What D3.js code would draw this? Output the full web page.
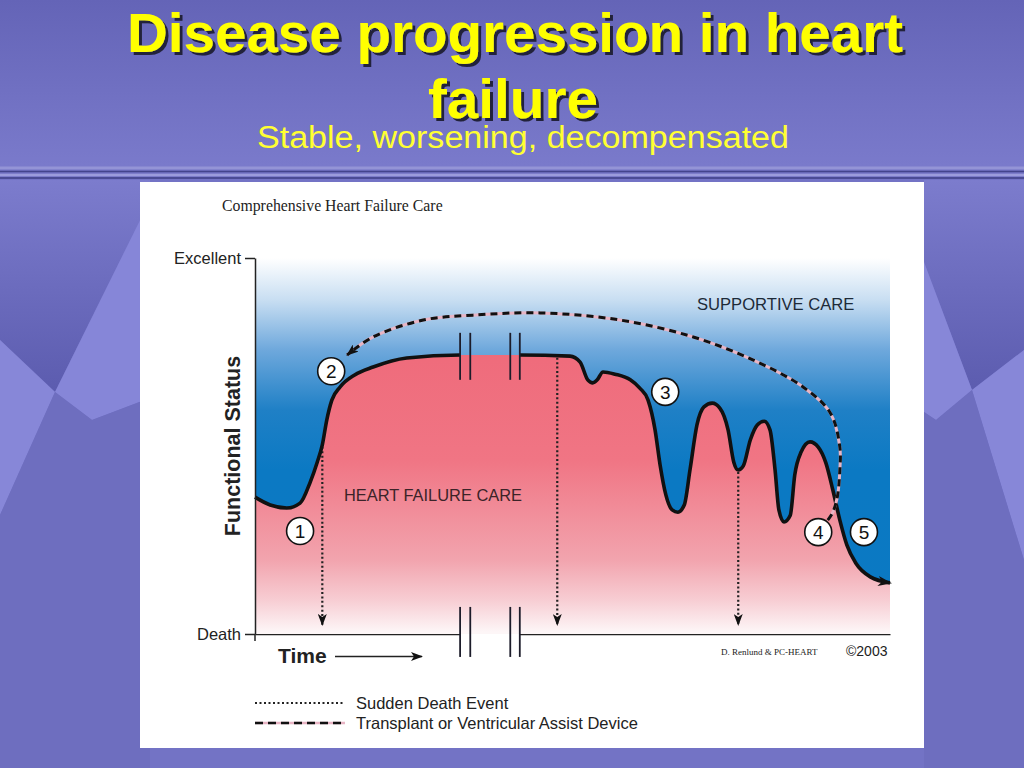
<!DOCTYPE html>
<html>
<head>
<meta charset="utf-8">
<script src="https://cdn.jsdelivr.net/npm/d3@7"></script>
<style>
  html, body { margin: 0; padding: 0; background: #7373c5; }
  svg { display: block; }
  text { font-family: "Liberation Sans", Arial, sans-serif; }
</style>
</head>
<body>
<svg id="slide" width="1024" height="768"></svg>
<script>
// Disease progression in heart failure - D3 redraw of the slide figure.
// time runs 0..100 across the plot, functional status 0 (Death) .. 100 (Excellent)
const CURVE_T = [0, 2.4, 5.0, 7.1, 8.7, 9.8, 10.6, 11.3, 12.1, 13.4, 15.7, 18.6, 23.9, 32.3, 41.7, 49.6, 51.2, 52.4, 53.2,
  53.9, 54.8, 56.7, 59.1, 60.6, 61.9, 63.0, 63.8, 64.7, 65.7, 66.6, 67.6, 68.5, 69.6, 70.7, 72.0, 73.2, 74.5, 75.4, 76.1,
  76.9, 78.0, 79.1, 80.2, 81.1, 81.9, 82.5, 83.3, 84.3, 85.0, 86.0, 87.4, 88.7, 89.9, 91.0, 92.1, 93.2, 94.6, 96.9, 100];
const CURVE_V = [36.4, 34.3, 33.5, 34.8, 40.4, 45.7, 50.3, 56.9, 62.2, 65.7, 68.9, 71.0, 73.4, 74.2, 74.2, 73.9, 72.3, 67.6, 66.8,
  67.6, 69.7, 69.1, 67.6, 65.4, 62.2, 54.3, 44.9, 37.0, 33.0, 32.4, 34.3, 43.6, 55.6, 60.4, 61.4, 60.1, 54.3, 45.7, 43.6,
  44.7, 51.6, 55.6, 56.6, 54.3, 43.6, 33.0, 29.8, 31.6, 42.3, 48.4, 51.1, 49.7, 45.5, 38.3, 30.3, 23.7, 18.9, 15.2, 13.6];

// transplant / VAD path, from the crossing near (4) back to (2)
const VAD_T = [90.2, 91.0, 91.7, 92.1, 92.1, 90.6, 86.3, 78.4, 69.0, 57.5, 44.9, 34.3, 26.5, 18.6, 14.5];
const VAD_V = [30.3, 32.4, 36.4, 43.6, 49.7, 58.8, 65.7, 72.9, 79.0, 83.5, 85.4, 84.8, 83.5, 79.0, 74.2];

// sudden death events
const SUDDEN_T = [10.6, 47.6, 76.1];
const SUDDEN_V = [50.3, 74.0, 43.6];

const MARK_LABEL = ["1", "2", "3", "4", "5"];
const MARK_T = [7.1, 12.0, 64.6, 88.7, 95.9];
const MARK_V = [27.4, 69.9, 64.4, 27.1, 27.1];

const BREAK_T = [32.3, 33.9, 40.2, 41.7];
const Y_TICKS = [0, 100];
const Y_TICK_LABELS = ["Death", "Excellent"];

const svg = d3.select("#slide");
const x = d3.scaleLinear().domain([0, 100]).range([255, 890]);
const y = d3.scaleLinear().domain([0, 100]).range([634, 258]);
const pts = CURVE_T.map((t, i) => [t, CURVE_V[i]]);

const defs = svg.append("defs");
function vgrad(id, stops) {
  const g = defs.append("linearGradient").attr("id", id).attr("gradientUnits", "userSpaceOnUse")
    .attr("x1", 0).attr("x2", 0).attr("y1", 0).attr("y2", 768);
  stops.forEach(([yy, c]) => g.append("stop").attr("offset", yy / 768).attr("stop-color", c));
}
vgrad("titleBg", [[0, "#6464b7"], [90, "#7070c2"], [166, "#7a7acb"]]);
vgrad("blueGrad", [[258, "#ffffff"], [300, "#c8def2"], [350, "#6ea8dc"], [410, "#1f80c6"], [470, "#0b79c3"], [634, "#0a79c3"]]);
vgrad("pinkGrad", [[350, "#ef6b7b"], [460, "#f07584"], [560, "#f2a4ae"], [600, "#f7cdd3"], [632, "#fdf6f7"]]);
vgrad("darkFacet", [[180, "#7c7ccd"], [390, "#5c5caf"]]);

const shadow = defs.append("filter").attr("id", "shadow").attr("x", "-5%").attr("y", "-20%").attr("width", "110%").attr("height", "140%");
shadow.append("feDropShadow").attr("dx", 3).attr("dy", 3).attr("stdDeviation", 0.6)
  .attr("flood-color", "#24243a").attr("flood-opacity", 1);

function marker(id, path, w, h, refX, refY) {
  defs.append("marker").attr("id", id).attr("viewBox", `0 0 ${w} ${h}`).attr("markerUnits", "userSpaceOnUse")
    .attr("markerWidth", w).attr("markerHeight", h).attr("refX", refX).attr("refY", refY).attr("orient", "auto")
    .append("path").attr("d", path).attr("fill", "#111");
}
marker("arrowBig", "M0,0 L14,5 L0,10 L4,5 Z", 14, 10, 12, 5);
marker("arrowSmall", "M0,0 L12,4.5 L0,9 L3,4.5 Z", 12, 9, 11, 4.5);

// break gap clip
defs.append("clipPath").attr("id", "gapClip").selectAll("rect")
  .data([[0, x(BREAK_T[0])], [x(BREAK_T[3]), 1024]]).join("rect")
  .attr("x", d => d[0]).attr("y", 0).attr("width", d => d[1] - d[0]).attr("height", 768);

// ---- slide background
svg.append("rect").attr("width", 1024).attr("height", 768).attr("fill", "#7373c5");
const facets = [
  ["M0,180 L150,180 L150,200 L55,392 L0,340 Z", "url(#darkFacet)"],
  ["M150,200 L150,398 L92,420 L55,392 Z", "#8686d8"],
  ["M0,340 L55,392 L0,515 Z", "#8787d8"],
  ["M55,392 L92,420 L150,398 L150,768 L0,768 L0,515 Z", "#6e6ebf"],
  ["M924,180 L1024,180 L1024,350 L972,390 L924,262 Z", "url(#darkFacet)"],
  ["M924,262 L972,390 L936,420 L924,412 Z", "#8787d8"],
  ["M972,390 L1024,350 L1024,560 Z", "#8787d8"],
  ["M924,412 L936,420 L972,390 L1024,560 L1024,768 L924,768 Z", "#6e6ebf"]
];
svg.append("g").selectAll("path").data(facets).join("path").attr("d", d => d[0]).attr("fill", d => d[1]);
svg.append("rect").attr("width", 1024).attr("height", 168).attr("fill", "url(#titleBg)");
[[168, "#9494d6", 3], [171.5, "#44448c", 1.5], [175, "#9c9cdc", 2.5], [178, "#3e3e84", 1.5]].forEach(([yy, c, w]) =>
  svg.append("line").attr("x1", 0).attr("x2", 1024).attr("y1", yy).attr("y2", yy).attr("stroke", c).attr("stroke-width", w));

// title
const title = svg.append("g").attr("font-weight", "bold").attr("font-size", 56).attr("text-anchor", "middle")
  .attr("filter", "url(#shadow)");
[["Disease progression in heart", 515, 52, 776], ["failure", 513, 118, 170]].forEach(([s, cx, by, len]) => {
  title.append("text").attr("x", cx).attr("y", by).attr("fill", "#ffff00").attr("textLength", len)
    .attr("lengthAdjust", "spacingAndGlyphs")
    .style("font-family", "'Liberation Sans Narrow', 'Arial Narrow', 'Liberation Sans', sans-serif").text(s);
});
svg.append("text").attr("x", 523).attr("y", 148).attr("text-anchor", "middle").attr("font-size", 31)
  .style("font-family", "'Liberation Sans Narrow', 'Arial Narrow', 'Liberation Sans', sans-serif")
  .attr("textLength", 532).attr("lengthAdjust", "spacingAndGlyphs")
  .attr("fill", "#ffff33").text("Stable, worsening, decompensated");

// white panel
svg.append("rect").attr("x", 140).attr("y", 182).attr("width", 784).attr("height", 566).attr("fill", "#ffffff");

svg.append("text").attr("x", 222).attr("y", 211).attr("font-size", 15.8).style("font-family", "'Liberation Serif', serif")
  .attr("fill", "#222").text("Comprehensive Heart Failure Care");

// ---- plot fills
svg.append("rect").attr("x", x(0)).attr("y", y(100)).attr("width", x(100) - x(0)).attr("height", y(0) - y(100))
  .attr("fill", "url(#pinkGrad)");
const area = d3.area().x(d => x(d[0])).y0(y(100)).y1(d => y(d[1])).curve(d3.curveMonotoneX);
svg.append("path").datum(pts).attr("d", area).attr("fill", "url(#blueGrad)");

svg.append("text").attr("x", 697).attr("y", 310).attr("font-size", 16.6).attr("fill", "#1d2a38").text("SUPPORTIVE CARE");
svg.append("text").attr("x", 344).attr("y", 501).attr("font-size", 16.4).attr("fill", "#3b2328").text("HEART FAILURE CARE");

// sudden death dotted arrows
svg.append("g").selectAll("line").data(SUDDEN_T).join("line")
  .attr("x1", d => x(d)).attr("x2", d => x(d))
  .attr("y1", (d, i) => y(SUDDEN_V[i]) + 2).attr("y2", y(2.4))
  .attr("stroke", "#222").attr("stroke-width", 2.2).attr("stroke-dasharray", "2,2.4")
  .attr("marker-end", "url(#arrowSmall)");

// main curve (stroke broken at the time gap)
const line = d3.line().x(d => x(d[0])).y(d => y(d[1])).curve(d3.curveMonotoneX);
svg.append("path").datum(pts).attr("d", line).attr("fill", "none").attr("stroke", "#111")
  .attr("stroke-width", 3.6).attr("clip-path", "url(#gapClip)").attr("marker-end", "url(#arrowBig)");

// transplant / VAD dashed arc
const vadPts = VAD_T.map((t, i) => [t, VAD_V[i]]);
const vadLine = d3.line().x(d => x(d[0])).y(d => y(d[1])).curve(d3.curveCatmullRom.alpha(0.5));
svg.append("path").datum(vadPts).attr("d", vadLine).attr("fill", "none").attr("stroke", "#e8b4c4").attr("stroke-width", 3);
svg.append("path").datum(vadPts).attr("d", vadLine).attr("fill", "none").attr("stroke", "#111")
  .attr("stroke-width", 3).attr("stroke-dasharray", "7,5").attr("marker-end", "url(#arrowSmall)");

// axes
const yAxis = svg.append("g").attr("transform", `translate(${x(0)},0)`)
  .call(d3.axisLeft(y).tickValues(Y_TICKS).tickFormat((d, i) => Y_TICK_LABELS[i]).tickSize(10).tickSizeOuter(0));
yAxis.selectAll("path, line").attr("stroke", "#222").attr("stroke-width", 1.5);
yAxis.selectAll("text").attr("font-size", 16.5).attr("fill", "#222").attr("x", -14).attr("dy", "0.35em")
  .style("font-family", "'Liberation Sans', Arial, sans-serif");
svg.append("line").attr("x1", x(0)).attr("x2", x(0)).attr("y1", y(0)).attr("y2", y(0) + 7)
  .attr("stroke", "#222").attr("stroke-width", 1.5);
const xAxis = svg.append("g").attr("transform", `translate(0,${y(0)})`).attr("clip-path", "url(#gapClip)")
  .call(d3.axisBottom(x).tickValues([]).tickSizeOuter(0));
xAxis.select("path").attr("stroke", "#222").attr("stroke-width", 1.5);

// break marks on the curve and on the axis
const brk = svg.append("g").attr("stroke", "#1c1c2a").attr("stroke-width", 1.8);
brk.selectAll(".bc").data(BREAK_T).join("line").attr("class", "bc")
  .attr("x1", d => x(d)).attr("x2", d => x(d)).attr("y1", y(80.1)).attr("y2", y(67.6));
brk.selectAll(".ba").data(BREAK_T).join("line").attr("class", "ba")
  .attr("x1", d => x(d)).attr("x2", d => x(d)).attr("y1", y(7.2)).attr("y2", y(-6.1));

// numbered markers
const mk = svg.append("g").selectAll("g").data(MARK_LABEL).join("g")
  .attr("transform", (d, i) => `translate(${x(MARK_T[i])},${y(MARK_V[i])})`);
mk.append("circle").attr("r", 13.5).attr("fill", "#fff").attr("stroke", "#111").attr("stroke-width", 1.6);
mk.append("text").attr("text-anchor", "middle").attr("dy", "0.36em").attr("font-size", 19).attr("fill", "#111").text(d => d);

// axis titles
svg.append("text").attr("transform", `translate(240,446) rotate(-90)`).attr("text-anchor", "middle")
  .attr("font-size", 21.5).attr("font-weight", "bold").attr("fill", "#222").text("Functional Status");
svg.append("text").attr("x", 278).attr("y", 663).attr("font-size", 21).attr("font-weight", "bold").attr("fill", "#222").text("Time");
svg.append("line").attr("x1", 335).attr("x2", 422).attr("y1", 656.5).attr("y2", 656.5)
  .attr("stroke", "#222").attr("stroke-width", 1.5).attr("marker-end", "url(#arrowSmall)");

svg.append("text").attr("x", 721).attr("y", 655).attr("font-size", 9).style("font-family", "'Liberation Serif', serif")
  .attr("fill", "#222").text("D. Renlund & PC-HEART");
svg.append("text").attr("x", 846).attr("y", 656).attr("font-size", 14).attr("fill", "#222").text("\u00a92003");

// legend
svg.append("line").attr("x1", 255).attr("x2", 345).attr("y1", 703).attr("y2", 703)
  .attr("stroke", "#222").attr("stroke-width", 1.8).attr("stroke-dasharray", "2,2.5");
svg.append("line").attr("x1", 255).attr("x2", 345).attr("y1", 723).attr("y2", 723)
  .attr("stroke", "#e8b4c4").attr("stroke-width", 2.5);
svg.append("line").attr("x1", 255).attr("x2", 345).attr("y1", 723).attr("y2", 723)
  .attr("stroke", "#111").attr("stroke-width", 2.5).attr("stroke-dasharray", "8,5");
svg.append("text").attr("x", 356).attr("y", 709).attr("font-size", 16.5).attr("fill", "#222").text("Sudden Death Event");
svg.append("text").attr("x", 356).attr("y", 729).attr("font-size", 16.5).attr("fill", "#222").text("Transplant or Ventricular Assist Device");
</script>
</body>
</html>
